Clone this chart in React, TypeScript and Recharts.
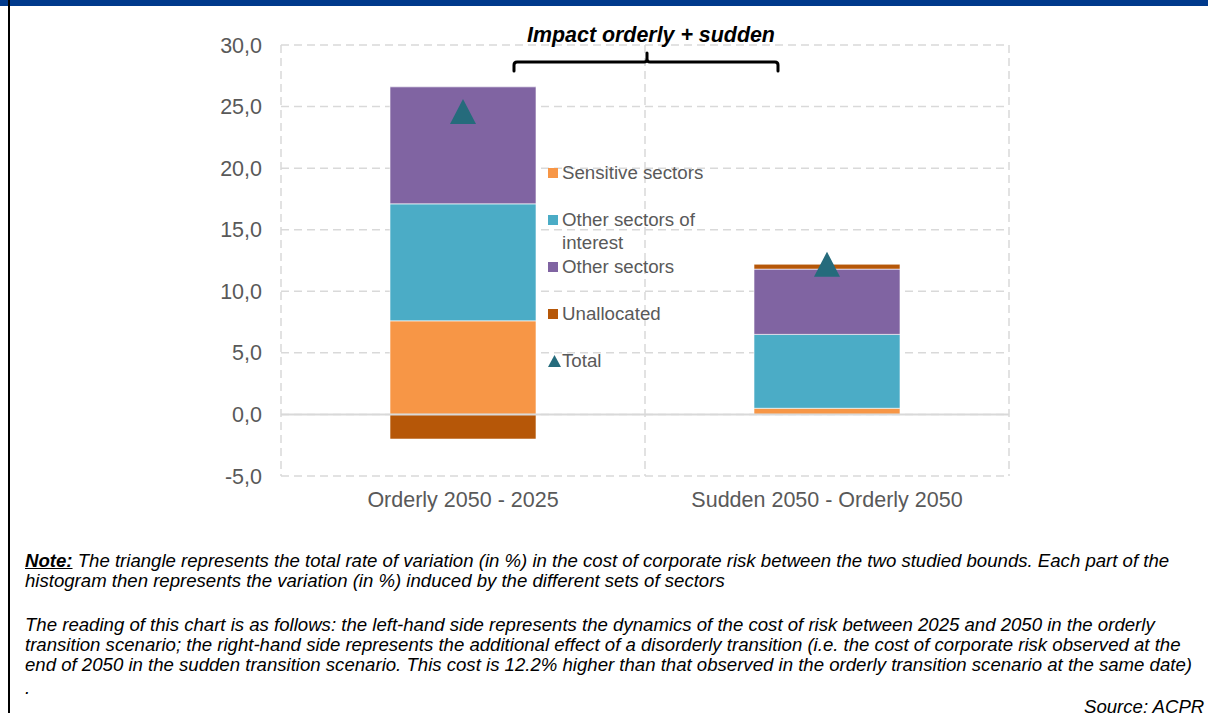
import { Bar, CartesianGrid, ComposedChart, Legend, Line, ReferenceLine, XAxis, YAxis } from 'recharts';

const categories = ['Orderly 2050 - 2025', 'Sudden 2050 - Orderly 2050'];
const sensitive = [7.6, 0.5];
const otherInterest = [9.5, 6.0];
const otherSectors = [9.5, 5.3];
const unallocated = [-2.0, 0.4];
const total = [24.6, 12.2];
const yTicks = [-5, 0, 5, 10, 15, 20, 25, 30];

const FONT = '"Liberation Sans", Arial, sans-serif';
const TRIANGLE = '#256B7C';

const series = [
  { key: 'sensitive', name: 'Sensitive sectors', color: '#F79646' },
  { key: 'otherInterest', name: 'Other sectors of interest', color: '#4BACC6' },
  { key: 'otherSectors', name: 'Other sectors', color: '#8064A2' },
  { key: 'unallocated', name: 'Unallocated', color: '#B65708' },
];

const data = categories.map((name, i) => ({
  name,
  sensitive: sensitive[i],
  otherInterest: otherInterest[i],
  otherSectors: otherSectors[i],
  unallocated: unallocated[i],
  total: total[i],
}));

function TriangleDot(props: any) {
  const { cx, cy } = props;
  if (cx == null || cy == null) return null;
  return <path d={`M${cx},${cy - 12.5} L${cx + 13},${cy + 12.5} L${cx - 13},${cy + 12.5} Z`} fill={TRIANGLE} />;
}

function SideLegend() {
  return (
    <div style={{ fontFamily: FONT, fontSize: 18.7, color: '#595959' }}>
      {series.map((s) => (
        <div key={s.key} style={{ height: 47, display: 'flex', alignItems: 'flex-start' }}>
          <span style={{ width: 10, height: 10, background: s.color, marginTop: 7, marginRight: 4, flex: 'none' }} />
          <span style={{ width: 150, lineHeight: '23px' }}>{s.name}</span>
        </div>
      ))}
      <div style={{ height: 47, display: 'flex', alignItems: 'flex-start' }}>
        <svg width={13} height={12} style={{ marginTop: 6, marginRight: 1, flex: 'none' }}>
          <path d="M6.5,0 L13,12 L0,12 Z" fill={TRIANGLE} />
        </svg>
        <span style={{ lineHeight: '23px' }}>Total</span>
      </div>
    </div>
  );
}

export default function App() {
  const fmt = (v: number) => v.toFixed(1).replace('.', ',');
  const noteStyle = {
    position: 'absolute' as const,
    fontFamily: FONT,
    fontSize: 18.6,
    lineHeight: '20px',
    fontStyle: 'italic',
    color: '#000',
    whiteSpace: 'nowrap' as const,
  };
  return (
    <div style={{ position: 'absolute', left: 0, top: 0, width: 1208, height: 713, overflow: 'hidden', background: '#fff' }}>
      <div style={{ position: 'absolute', left: 0, top: 0, width: 1208, height: 6, background: '#003A8C' }} />
      <div style={{ position: 'absolute', left: 8, top: 0, width: 2, height: 713, background: '#000' }} />

      <div style={{ position: 'absolute', left: 0, top: 0 }}>
        <ComposedChart
          width={1208}
          height={520}
          data={data}
          stackOffset="sign"
          margin={{ top: 45, right: 199, bottom: 14, left: 200 }}
        >
          <CartesianGrid
            stroke="#D9D9D9"
            strokeDasharray="8 5"
            strokeWidth={1.5}
            verticalCoordinatesGenerator={({ offset }: any) => [
              offset.left,
              offset.left + offset.width / 2,
              offset.left + offset.width,
            ]}
          />
          <XAxis
            dataKey="name"
            axisLine={false}
            tickLine={false}
            tickMargin={10}
            tick={{ fill: '#595959', fontSize: 21.5, fontFamily: FONT }}
          />
          <YAxis
            domain={[-5, 30]}
            ticks={yTicks}
            width={81}
            axisLine={false}
            tickLine={false}
            tickMargin={13}
            tickFormatter={fmt}
            tick={{ fill: '#595959', fontSize: 21.5, fontFamily: FONT }}
          />
          <ReferenceLine y={0} stroke="#D9D9D9" strokeWidth={2} />
          {series.map((s) => (
            <Bar
              key={s.key}
              dataKey={s.key}
              name={s.name}
              stackId="a"
              fill={s.color}
              stroke="#ffffff"
              strokeWidth={0.6}
              barSize={146}
              isAnimationActive={false}
            />
          ))}
          <Line
            dataKey="total"
            name="Total"
            stroke="none"
            dot={<TriangleDot />}
            activeDot={false}
            isAnimationActive={false}
          />
          <Legend
            layout="vertical"
            align="center"
            verticalAlign="middle"
            content={() => <SideLegend />}
            wrapperStyle={{ left: 548, top: 160.5, width: 220 }}
          />
        </ComposedChart>
      </div>

      <svg style={{ position: 'absolute', left: 0, top: 0 }} width={1208} height={100}>
        <text
          x={651}
          y={35}
          textAnchor="middle"
          dominantBaseline="central"
          fontFamily={FONT}
          fontSize={21.4}
          fontWeight="bold"
          fontStyle="italic"
          fill="#000"
        >
          Impact orderly + sudden
        </text>
        <path
          d="M514 71 L514 65 Q514 62 517 62 L644 62 Q647 62 647 59 L647 53 M647 59 Q647 62 650 62 L775 62 Q778 62 778 65 L778 71"
          stroke="#000"
          strokeWidth={3}
          fill="none"
          strokeLinecap="round"
        />
      </svg>

      <div style={{ ...noteStyle, left: 25, top: 551 }}>
        <div>
          <span style={{ fontWeight: 'bold', textDecoration: 'underline' }}>Note:</span> The triangle represents the total rate of variation (in %) in the cost of corporate risk between the two studied bounds. Each part of the
          <br />
          histogram then represents the variation (in %) induced by the different sets of sectors
        </div>
        <div style={{ marginTop: 24 }}>
          The reading of this chart is as follows: the left-hand side represents the dynamics of the cost of risk between 2025 and 2050 in the orderly
          <br />
          transition scenario; the right-hand side represents the additional effect of a disorderly transition (i.e. the cost of corporate risk observed at the
          <br />
          end of 2050 in the sudden transition scenario. This cost is 12.2% higher than that observed in the orderly transition scenario at the same date)
        </div>
        <div style={{ marginTop: 3 }}>.</div>
      </div>
      <div style={{ ...noteStyle, left: 1084, top: 697 }}>Source: ACPR</div>
    </div>
  );
}
